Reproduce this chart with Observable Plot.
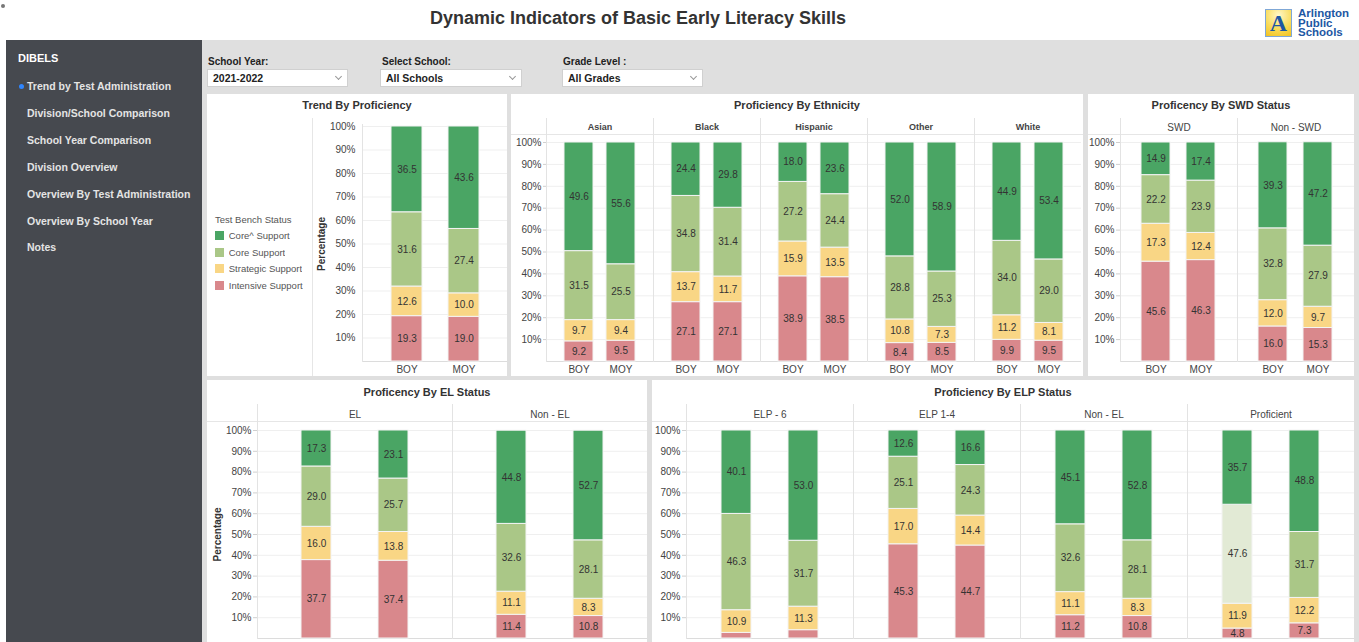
<!DOCTYPE html>
<html>
<head>
<meta charset="utf-8">
<script src="https://cdn.jsdelivr.net/npm/d3@7"></script>
<script src="https://cdn.jsdelivr.net/npm/@observablehq/plot@0.6"></script>
<style>
html,body{margin:0;padding:0;width:1359px;height:642px;overflow:hidden;background:#fff;}
#root{position:relative;width:1359px;height:642px;overflow:hidden;font-family:"Liberation Sans Narrow","Arial Narrow","Liberation Sans",Arial,sans-serif;}
.abs{position:absolute;}
#pageTitle{left:0;top:7px;width:1276px;text-align:center;font-weight:bold;font-size:18px;line-height:22px;color:#333;}
#gray{left:202px;top:40px;width:1157px;height:602px;background:#dfdfdf;}
#side{left:6px;top:40px;width:196px;height:602px;background:#46494f;}
.side-item{position:absolute;left:21px;font-weight:bold;font-size:10.5px;line-height:14px;color:#e4e4e4;white-space:nowrap;}
.flabel{position:absolute;font-weight:bold;font-size:10px;line-height:12px;color:#222;}
.fbox{position:absolute;height:18px;background:#fff;border:1px solid #d0d0d0;box-sizing:border-box;font-weight:bold;font-size:10.5px;line-height:16px;padding-left:5px;color:#222;}
.fbox .chev{position:absolute;right:6px;top:4px;width:4px;height:4px;border-right:1px solid #999;border-bottom:1px solid #999;transform:rotate(45deg);}
.panel{position:absolute;background:#fff;overflow:hidden;}
.ptitle{position:absolute;left:0;width:100%;text-align:center;font-weight:bold;font-size:11px;line-height:14px;color:#333;}
.hrule{position:absolute;left:0;width:100%;height:1px;background:#e6e6e6;}
.vrule{position:absolute;width:1px;background:#e6e6e6;}
.chart{position:absolute;}
.chart svg [aria-label="y-axis label"] text{font-weight:bold;fill:#333;}
.tbs-swatch{height:15.6px;}
</style>
</head>
<body>
<div id="root">
  <div class="abs" style="left:1px;top:4px;width:4px;height:4px;border-radius:2px;background:#777;"></div>
  <div id="pageTitle" class="abs">Dynamic Indicators of Basic Early Literacy Skills</div>
  <div class="abs" style="left:1265px;top:9px;width:27px;height:28px;box-sizing:border-box;border:1px solid #7fa7d6;background:radial-gradient(circle at 50% 20%,#fff7c8 0%,#f9dc5c 55%,#f2c21f 100%);">
    <div style="position:absolute;left:0;top:1px;width:25px;text-align:center;font-family:'Liberation Serif','DejaVu Serif',serif;font-weight:bold;font-size:24px;line-height:25px;color:#1d57a3;">A</div>
  </div>
  <div class="abs" style="left:1298px;top:9px;font-weight:bold;font-size:11.5px;line-height:9.5px;color:#1d57a3;">Arlington<br>Public<br>Schools</div>
  <div id="gray" class="abs"></div>
  <div id="side" class="abs">
    <div class="side-item" style="left:12px;top:11px;color:#fff;font-size:11px;">DIBELS</div>
    <div class="abs" style="left:13px;top:44px;width:5px;height:5px;border-radius:3px;background:#2f86ff;"></div>
    <div class="side-item" style="top:39px;">Trend by Test Administration</div>
    <div class="side-item" style="top:66px;">Division/School Comparison</div>
    <div class="side-item" style="top:93px;">School Year Comparison</div>
    <div class="side-item" style="top:120px;">Division Overview</div>
    <div class="side-item" style="top:147px;">Overview By Test Administration</div>
    <div class="side-item" style="top:174px;">Overview By School Year</div>
    <div class="side-item" style="top:200px;">Notes</div>
  </div>
  <div class="flabel" style="left:208px;top:56px;">School Year:</div>
  <div class="fbox" style="left:207px;top:69px;width:141px;">2021-2022<span class="chev"></span></div>
  <div class="flabel" style="left:382px;top:56px;">Select School:</div>
  <div class="fbox" style="left:380px;top:69px;width:142px;">All Schools<span class="chev"></span></div>
  <div class="flabel" style="left:563px;top:56px;">Grade Level :</div>
  <div class="fbox" style="left:562px;top:69px;width:141px;">All Grades<span class="chev"></span></div>

  <div class="panel" id="p-trend" style="left:207px;top:94px;width:300px;height:282px;">
    <div class="ptitle" style="top:4px;">Trend By Proficiency</div>
    <div class="vrule" style="left:105px;top:24px;height:258px;"></div>
    <div class="abs" style="left:8px;top:120px;font-size:9.5px;line-height:12px;color:#555;">Test Bench Status</div>
    <div class="abs" id="legend" style="left:8px;top:134px;"></div>
    <div class="chart" id="c-trend" style="left:105px;top:16px;"></div>
  </div>
  <div class="panel" id="p-eth" style="left:511px;top:94px;width:572px;height:282px;">
    <div class="ptitle" style="top:4px;">Proficiency By Ethnicity</div>
    <div class="hrule" style="top:40px;"></div>
    <div class="chart" id="c-eth" style="left:0;top:16px;"></div>
  </div>
  <div class="panel" id="p-swd" style="left:1088px;top:94px;width:266px;height:282px;">
    <div class="ptitle" style="top:4px;">Proficency By SWD Status</div>
    <div class="hrule" style="top:40px;"></div>
    <div class="chart" id="c-swd" style="left:0;top:16px;"></div>
  </div>
  <div class="panel" id="p-el" style="left:207px;top:380px;width:440px;height:262px;">
    <div class="ptitle" style="top:5px;">Proficency By EL Status</div>
    <div class="hrule" style="top:41px;"></div>
    <div class="chart" id="c-el" style="left:0;top:16px;"></div>
  </div>
  <div class="panel" id="p-elp" style="left:652px;top:380px;width:702px;height:262px;">
    <div class="ptitle" style="top:5px;">Proficiency By ELP Status</div>
    <div class="hrule" style="top:41px;"></div>
    <div class="chart" id="c-elp" style="left:0;top:16px;"></div>
  </div>
</div>
<script>
// ---------- data ----------
const statuses = ["Core^ Support", "Core Support", "Strategic Support", "Intensive Support"];
const statusColors = ["#4aa564", "#aac787", "#f9d685", "#d9888c"];
const admins = ["BOY", "MOY"];
const yTicks = [10, 20, 30, 40, 50, 60, 70, 80, 90, 100];

// values per bar in status order: Core^, Core, Strategic, Intensive
const trendBOY = [36.5, 31.6, 12.6, 19.3];
const trendMOY = [43.6, 27.4, 10.0, 19.0];

const ethnicities = ["Asian", "Black", "Hispanic", "Other", "White"];
const ethnicityBOY = [[49.6, 31.5, 9.7, 9.2], [24.4, 34.8, 13.7, 27.1], [18.0, 27.2, 15.9, 38.9], [52.0, 28.8, 10.8, 8.4], [44.9, 34.0, 11.2, 9.9]];
const ethnicityMOY = [[55.6, 25.5, 9.4, 9.5], [29.8, 31.4, 11.7, 27.1], [23.6, 24.4, 13.5, 38.5], [58.9, 25.3, 7.3, 8.5], [53.4, 29.0, 8.1, 9.5]];

const swdGroups = ["SWD", "Non - SWD"];
const swdBOY = [[14.9, 22.2, 17.3, 45.6], [39.3, 32.8, 12.0, 16.0]];
const swdMOY = [[17.4, 23.9, 12.4, 46.3], [47.2, 27.9, 9.7, 15.3]];

const elGroups = ["EL", "Non - EL"];
const elBOY = [[17.3, 29.0, 16.0, 37.7], [44.8, 32.6, 11.1, 11.4]];
const elMOY = [[23.1, 25.7, 13.8, 37.4], [52.7, 28.1, 8.3, 10.8]];

const elpGroups = ["ELP - 6", "ELP 1-4", "Non - EL", "Proficient"];
const elpBOY = [[40.1, 46.3, 10.9, 2.7], [12.6, 25.1, 17.0, 45.3], [45.1, 32.6, 11.1, 11.2], [35.7, 47.6, 11.9, 4.8]];
const elpMOY = [[53.0, 31.7, 11.3, 4.0], [16.6, 24.3, 14.4, 44.7], [52.8, 28.1, 8.3, 10.8], [48.8, 31.7, 12.2, 7.3]];

// highlighted (faded) cell in the reference
const fadedCells = [["Proficient", "BOY", "Core Support"]];
const fadedColor = "#e2ead5";
const labelMin = 4.5;

// ---------- helpers ----------
const FONT = '"Liberation Sans Narrow","Arial Narrow","Liberation Sans",Arial,sans-serif';

function makeRows(groups, boy, moy) {
  const rows = [];
  groups.forEach((g, gi) => {
    admins.forEach((a, ai) => {
      const vals = (ai === 0 ? boy : moy)[gi];
      for (let si = statuses.length - 1; si >= 0; si--) {
        rows.push({group: g, admin: a, status: statuses[si], value: vals[si]});
      }
    });
  });
  return rows;
}
function fillOf(d) {
  const faded = fadedCells.some(([g, a, s]) => g === d.group && a === d.admin && s === d.status);
  return faded ? fadedColor : statusColors[statuses.indexOf(d.status)];
}

function stackedChart(o) {
  const faceted = !!o.groups;
  const fxOpt = faceted ? {fx: "group"} : {};
  const marks = [
    Plot.gridY({ticks: yTicks, stroke: "#efefef", strokeOpacity: 1}),
    Plot.ruleY([0], {stroke: "#dcdcdc"}),
    Plot.frame({anchor: "left", insetTop: -o.dividerInset, stroke: "#e3e3e3"}),
    Plot.barY(o.rows, Plot.stackY({...fxOpt, x: "admin", y: "value", z: "status", fill: fillOf, stroke: "#f4f4f4", strokeWidth: 1})),
    Plot.text(o.rows, Plot.stackY({...fxOpt, x: "admin", y: "value", z: "status",
      text: d => d.value >= labelMin ? d.value.toFixed(1) : "", fill: "#333", fontSize: 10})),
    Plot.axisY({ticks: yTicks, tickFormat: d => d + "%", tickSize: o.tickSize, tickPadding: o.tickPadding,
      stroke: "#cfcfcf", fill: "#444", fontSize: 10,
      label: o.yLabel || null, labelAnchor: "center", labelOffset: o.labelOffset, labelArrow: "none"})
  ];
  // x labels of the lower panels fall below the visible page in the reference
  if (o.showX !== false) marks.push(Plot.axisX({tickSize: 0, tickPadding: 4, fill: "#444", fontSize: 10, label: null}));
  if (faceted) {
    marks.push(Plot.text(o.groups, {fx: d => d, text: d => d, frameAnchor: "top", dy: o.headerDy,
      fill: "#444", fontSize: o.headerSize || 10, fontWeight: o.headerWeight || "normal"}));
  }
  const spec = {
    width: o.width, height: o.height,
    marginLeft: o.marginLeft, marginRight: 0, marginTop: o.marginTop, marginBottom: o.marginBottom,
    style: {fontFamily: FONT, fontSize: "10px", color: "#444", background: "transparent", overflow: "visible"},
    x: {domain: admins, paddingInner: o.pi, paddingOuter: o.po, axis: null},
    y: {domain: [0, 100]},
    color: {type: "identity"},
    marks
  };
  if (faceted) spec.fx = {domain: o.groups, padding: 0, axis: null};
  return Plot.plot(spec);
}

// ---------- charts ----------
document.getElementById("c-trend").append(stackedChart({
  rows: makeRows(["All"], [trendBOY], [trendMOY]),
  width: 195, height: 266, marginLeft: 50, marginTop: 16, marginBottom: 15,
  pi: 0.46, po: 0.49, dividerInset: 2, tickSize: 0, tickPadding: 7,
  yLabel: "Percentage", labelOffset: 45
}));

document.getElementById("c-eth").append(stackedChart({
  rows: makeRows(ethnicities, ethnicityBOY, ethnicityMOY), groups: ethnicities,
  width: 572, height: 266, marginLeft: 33, marginTop: 32, marginBottom: 15,
  pi: 0.30, po: 0.41, dividerInset: 24, tickSize: 3, tickPadding: 2,
  headerDy: -18.5, headerSize: 9, headerWeight: "bold"
}));

document.getElementById("c-swd").append(stackedChart({
  rows: makeRows(swdGroups, swdBOY, swdMOY), groups: swdGroups,
  width: 266, height: 266, marginLeft: 32, marginTop: 32, marginBottom: 15,
  pi: 0.35, po: 0.45, dividerInset: 24, tickSize: 4, tickPadding: 2,
  headerDy: -18.5, headerSize: 10
}));

document.getElementById("c-el").append(stackedChart({
  rows: makeRows(elGroups, elBOY, elMOY), groups: elGroups,
  width: 440, height: 258, marginLeft: 50, marginTop: 34, marginBottom: 16,
  pi: 0.61, po: 0.565, dividerInset: 26, tickSize: 4, tickPadding: 2,
  headerDy: -19.5, headerSize: 10, yLabel: "Percentage", labelOffset: 44, showX: false
}));

document.getElementById("c-elp").append(stackedChart({
  rows: makeRows(elpGroups, elpBOY, elpMOY), groups: elpGroups,
  width: 702, height: 258, marginLeft: 33, marginTop: 34, marginBottom: 16,
  pi: 0.556, po: 0.52, dividerInset: 26, tickSize: 4, tickPadding: 2,
  headerDy: -19.5, headerSize: 10, showX: false
}));

// legend
document.getElementById("legend").append(Plot.legend({
  color: {type: "ordinal", domain: statuses, range: statusColors},
  columns: 1, swatchSize: 9, className: "tbs",
  style: {fontFamily: FONT, fontSize: "9.5px", color: "#555", margin: "0"}
}));
</script>
</body>
</html>
